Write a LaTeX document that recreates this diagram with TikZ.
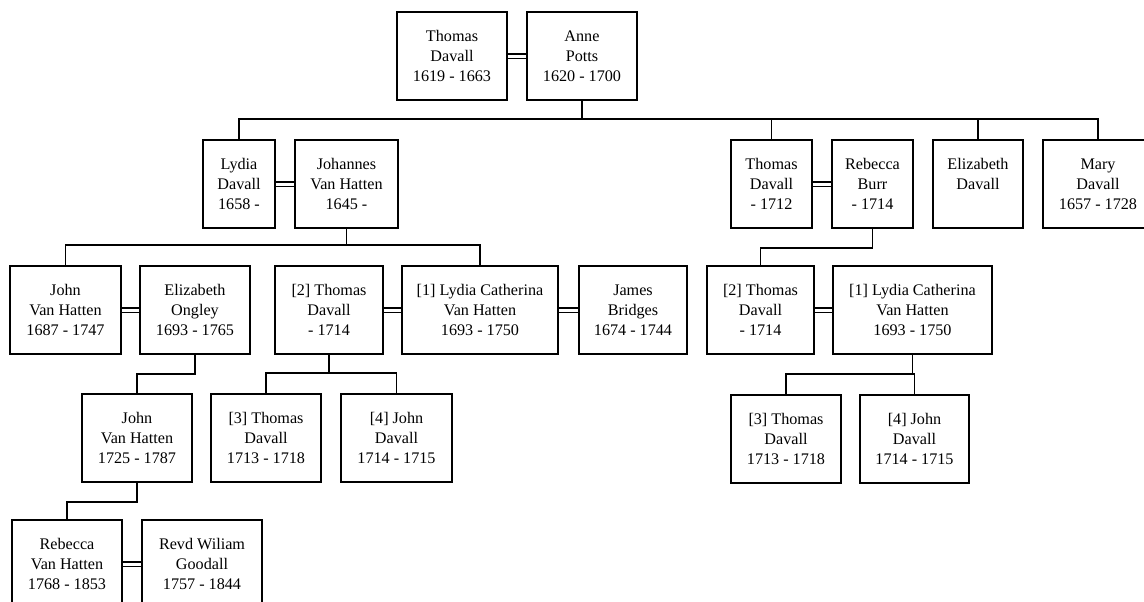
\documentclass[tikz,border=0pt]{standalone}
\usepackage{fontspec}
\setmainfont{Liberation Serif}
\usetikzlibrary{positioning}
\def\treefont{\fontsize{9.2}{11.3}\selectfont}

\begin{document}
\begin{tikzpicture}[x=0.02cm, y=-0.02cm,
	person/.style={draw, line width=0.9pt, minimum width={#1*0.02cm}, minimum height={88*0.02cm}, inner sep=0pt, align=center, font=\treefont},
	wed/.style={double, line width=0.7pt, double distance=0.06cm},
	kin/.style={line width=0.9pt}]
			%%%%% START %%%%%
			\useasboundingbox (0, 0) rectangle (1144, 602);
			
			\node[person=110] (tdavall) at (452, 56) {Thomas\\Davall\\1619 - 1663};
			\node[person=110] (apotts) at (582, 56) {Anne\\Potts\\1620 - 1700};
			
			\node[person=72] (ldavall) at (239, 184) {Lydia\\Davall\\1658 -};
			\node[person=103] (jvhatten) at (346.5, 184) {Johannes\\Van Hatten\\1645 -};
			\node[person=81] (tdavalltwo) at (771.5, 184) {Thomas\\Davall\\- 1712};
			\node[person=81] (rburr) at (872.5, 184) {Rebecca\\Burr\\- 1714};
			\node[person=90] (edavall) at (978, 184) {Elizabeth\\Davall\\\phantom{0}};
			\node[person=110] (mdavall) at (1098, 184) {Mary\\Davall\\1657 - 1728};
			
			\node[person=111] (jvhone) at (65.5, 310) {John\\Van Hatten\\1687 - 1747};
			\node[person=110] (eongley) at (195, 310) {Elizabeth\\Ongley\\1693 - 1765};
			\node[person=108] (tdleft) at (329, 310) {[2] Thomas\\Davall\\- 1714};
			\node[person=156] (lcleft) at (480, 310) {[1] Lydia Catherina\\Van Hatten\\1693 - 1750};
			\node[person=108] (jbridges) at (633, 310) {James\\Bridges\\1674 - 1744};
			\node[person=107] (tdright) at (760.5, 310) {[2] Thomas\\Davall\\- 1714};
			\node[person=159] (lcright) at (912.5, 310) {[1] Lydia Catherina\\Van Hatten\\1693 - 1750};
			
			\node[person=110] (jvhtwo) at (137, 438) {John\\Van Hatten\\1725 - 1787};
			\node[person=110] (tthreeleft) at (266, 438) {[3] Thomas\\Davall\\1713 - 1718};
			\node[person=111] (jfourleft) at (396.5, 438) {[4] John\\Davall\\1714 - 1715};
			\node[person=110] (tthreeright) at (786, 439) {[3] Thomas\\Davall\\1713 - 1718};
			\node[person=109] (jfourright) at (914.5, 439) {[4] John\\Davall\\1714 - 1715};
			
			\node[person=110] (rvhatten) at (67, 564) {Rebecca\\Van Hatten\\1768 - 1853};
			\node[person=120] (rwgoodall) at (202, 564) {Revd Wiliam\\Goodall\\1757 - 1844};
			
			% marriages
			\draw[wed] (tdavall) -- (apotts);
			\draw[wed] (ldavall) -- (jvhatten);
			\draw[wed] (tdavalltwo) -- (rburr);
			\draw[wed] (jvhone) -- (eongley);
			\draw[wed] (tdleft) -- (lcleft);
			\draw[wed] (lcleft) -- (jbridges);
			\draw[wed] (tdright) -- (lcright);
			\draw[wed] (rvhatten) -- (rwgoodall);
			
			% children
			\draw[kin] (ldavall.north) -- ++(0, -20) coordinate (barone) -| (mdavall.north);
			\draw[kin] (apotts.south) |- (barone);
			\draw[kin] (tdavalltwo.north) -- (tdavalltwo.north |- barone);
			\draw[kin] (edavall.north) -- (edavall.north |- barone);
			
			\draw[kin] (jvhone.north) -- ++(0, -20) coordinate (bartwo) -| (lcleft.north);
			\draw[kin] (jvhatten.south) |- (bartwo);
			\draw[kin] (rburr.south) -- ++(0, 19) -| (tdright.north);
			
			\draw[kin] (eongley.south) -- ++(0, 19) -| (jvhtwo.north);
			\draw[kin] (tthreeleft.north) -- ++(0, -20) coordinate (barthree) -| (jfourleft.north);
			\draw[kin] (tdleft.south) -- (tdleft.south |- barthree);
			\draw[kin] (tthreeright.north) -- ++(0, -20) coordinate (barfour) -| (jfourright.north);
			\draw[kin] (lcright.south) -- (lcright.south |- barfour);
			
			\draw[kin] (jvhtwo.south) -- ++(0, 19) -| (rvhatten.north);
			%%%%% END %%%%%
\end{tikzpicture}
\end{document}
